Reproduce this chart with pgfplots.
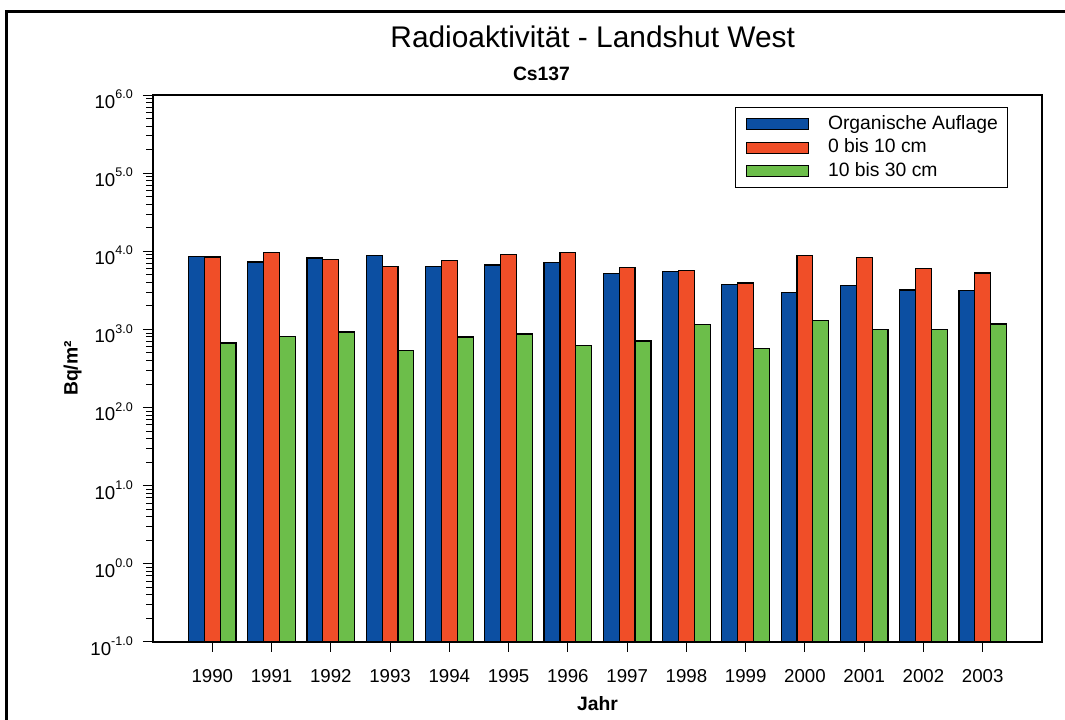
\documentclass[border=0pt]{standalone}
\usepackage{pgfplots}
\pgfplotsset{compat=1.18}
\usepackage{pgfplotstable}
\usepackage{fontspec}
\setmainfont{Liberation Sans}
\definecolor{cblue}{RGB}{12,79,162}
\definecolor{corange}{RGB}{240,78,40}
\definecolor{cgreen}{RGB}{108,190,74}
\newcommand{\tl}[1]{10\raisebox{7.3pt}{\fontsize{9.4}{10}\selectfont #1}}
\pgfplotstableread{
x year org top sub
0 1990 8590 8440 671
1 1991 7280 9660 815
2 1992 8190 7790 927
3 1993 8760 6400 540
4 1994 6340 7630 800
5 1995 6670 9100 875
6 1996 7130 9660 620
7 1997 5150 6150 711
8 1998 5520 5690 1150
9 1999 3770 3930 568
10 2000 2970 8760 1306
11 2001 3660 8330 993
12 2002 3190 5970 1003
13 2003 3160 5260 1175
}\datatable
\pgfplotsset{myleg/.style={legend image code/.code={
  \draw[##1,draw=black,line width=0.75pt] (0pt,-4.1pt) rectangle (46.5pt,4.1pt);
  \path[draw=none,fill=none] (61.5pt,0.1pt) (61.5pt,-0.1pt);}}}
\begin{document}
\begin{tikzpicture}
\useasboundingbox (-114.75pt,-58.5pt) rectangle (684pt,481.5pt);
\draw[line width=2.25pt] (-109.5pt,-62pt) -- (-109.5pt,472.5pt) -- (690pt,472.5pt);
\begin{axis}[
  width=666.75pt, height=410.25pt, scale only axis,
  ymode=log, log basis y=10, ymin=0.1, ymax=1e6, log origin y=infty,
  xmin=-1, xmax=14, clip=false,
  ybar=0pt, bar width=0.268,
  xtick={0,1,2,3,4,5,6,7,8,9,10,11,12,13},
  xticklabels={1990,1991,1992,1993,1994,1995,1996,1997,1998,1999,2000,2001,2002,2003},
  ytick={0.1,1,10,100,1000,10000,100000,1000000},
  yticklabels={\tl{-1.0},\tl{0.0},\tl{1.0},\tl{2.0},\tl{3.0},\tl{4.0},\tl{5.0},\tl{6.0}},
  minor ytick={0.2,0.3,0.4,0.5,0.6,0.7,0.8,0.9,2,3,4,5,6,7,8,9,20,30,40,50,60,70,80,90,200,300,400,500,600,700,800,900,2000,3000,4000,5000,6000,7000,8000,9000,20000,30000,40000,50000,60000,70000,80000,90000,200000,300000,400000,500000,600000,700000,800000,900000},
  tick align=outside, xtick pos=bottom, ytick pos=left,
  major tick length=7.5pt, minor tick length=5pt,
  every tick/.style={black, line width=0.75pt},
  axis line style={line width=1pt},
  tick label style={font=\fontsize{14}{16}\selectfont},
  yticklabel style={anchor=base east, inner sep=0pt, xshift=-7.5pt, yshift=-10pt},
  xticklabel style={anchor=north, inner sep=0pt, yshift=-12.75pt},
  xlabel={Jahr},
  xlabel style={at={(axis description cs:0.5,-0.1261)}, anchor=base, font=\bfseries\fontsize{14.5}{17}\selectfont},
  ylabel={Bq/m²},
  ylabel style={at={(axis description cs:-0.0849,0.5)}, anchor=base, font=\bfseries\fontsize{14.5}{17}\selectfont},
  title={Radioaktivität - Landshut West},
  title style={at={(axis description cs:0.4946,1.0731)}, anchor=base, font=\fontsize{22.4}{26}\selectfont},
  legend cell align=left,
  legend style={at={(0.9618,0.9772)}, anchor=north east, draw=black, line width=0.75pt,
    font=\fontsize{14.5}{17}\selectfont, inner xsep=7.3pt, inner ysep=5.6pt, row sep=4.1pt,
    nodes={inner xsep=0pt, inner ysep=0pt, text height=10.5pt, text depth=3pt}},
]
\addplot[fill=cblue, draw=black, line width=0.9pt, myleg] table[x=x, y=org] {\datatable};
\addplot[fill=corange, draw=black, line width=0.9pt, myleg] table[x=x, y=top] {\datatable};
\addplot[fill=cgreen, draw=black, line width=0.9pt, myleg] table[x=x, y=sub] {\datatable};
\legend{Organische Auflage, 0 bis 10 cm, 10 bis 30 cm}
\node[anchor=base, font=\bfseries\fontsize{14.5}{17}\selectfont] at (axis description cs:0.437,1.0261) {Cs137};
\end{axis}
\end{tikzpicture}
\end{document}
